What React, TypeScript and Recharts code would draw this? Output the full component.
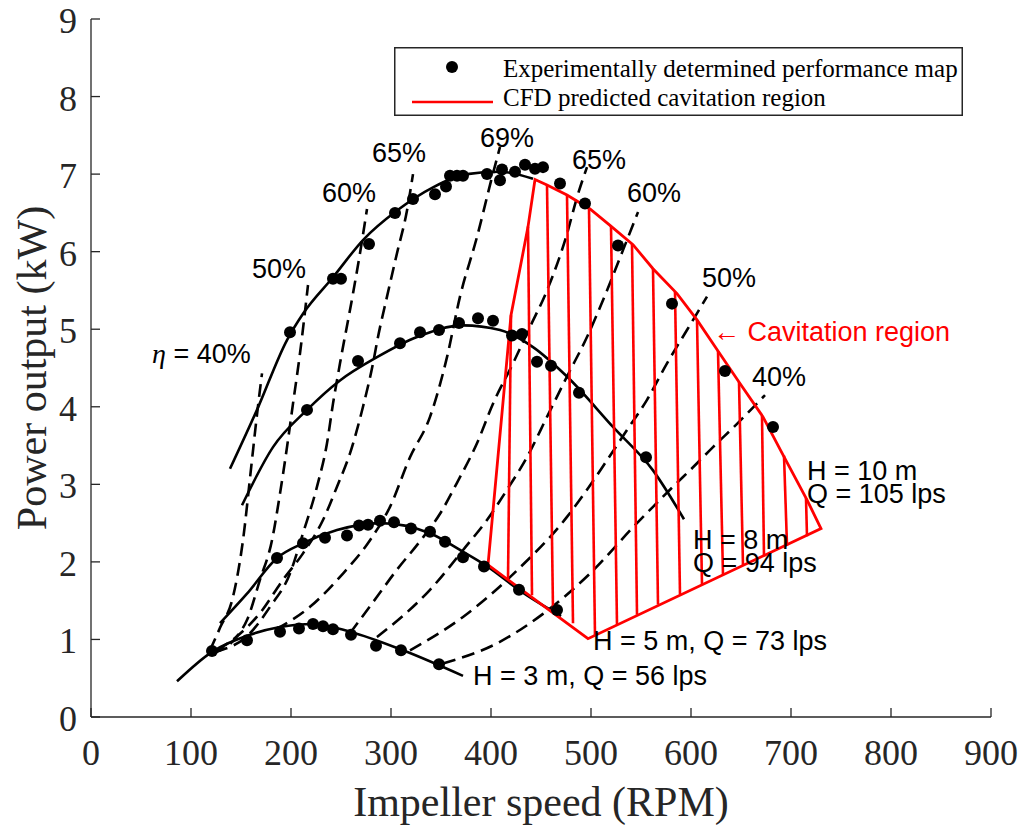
import React from 'react';
import { ComposedChart, Line, Scatter, XAxis, YAxis, ReferenceDot, Legend } from 'recharts';

type Pt = [number, number];

const rpmTicks = [0, 100, 200, 300, 400, 500, 600, 700, 800, 900];
const kwTicks = [0, 1, 2, 3, 4, 5, 6, 7, 8, 9];

// experimental points (rpm, kW), one list per head
const measured3m: Pt[] = [
  [121, 0.85], [156, 0.99], [189, 1.1], [208, 1.14], [222, 1.2], [232, 1.17], [242, 1.13],
  [260, 1.06], [285, 0.92], [310, 0.86], [348, 0.68],
];
const measured5m: Pt[] = [
  [186, 2.05], [212, 2.24], [234, 2.31], [256, 2.34], [268, 2.47], [277, 2.48], [289, 2.53],
  [303, 2.51], [320, 2.43], [339, 2.39], [354, 2.26], [372, 2.06], [393, 1.94], [428, 1.64], [466, 1.38],
];
const measured8m: Pt[] = [
  [216, 3.96], [267, 4.59], [309, 4.82], [329, 4.96], [348, 4.99], [368, 5.08], [387, 5.14],
  [402, 5.11], [421, 4.92], [431, 4.94], [446, 4.58], [460, 4.53], [488, 4.18], [555, 3.35],
];
const measured10m: Pt[] = [
  [199, 4.96], [242, 5.65], [250, 5.65], [278, 6.1], [304, 6.5], [322, 6.68], [344, 6.74],
  [355, 6.84], [359, 6.98], [366, 6.98], [372, 6.98], [396, 7.0], [409, 6.92], [411, 7.06],
  [424, 7.03], [434, 7.12], [444, 7.07], [452, 7.09], [469, 6.88], [494, 6.62], [527, 6.08],
  [581, 5.33], [634, 4.46], [682, 3.74],
];

// fitted head curves
const fit3m: Pt[] = [[86, 0.46], [121, 0.84], [159, 1.06], [189, 1.16], [222, 1.2], [259, 1.1], [312, 0.86], [372, 0.53]];
const fit5m: Pt[] = [
  [129, 1.21], [156, 1.59], [186, 2.05], [212, 2.24], [246, 2.41], [289, 2.5], [339, 2.37],
  [372, 2.13], [394, 1.96], [430, 1.62], [470, 1.3],
];
const fit8m: Pt[] = [
  [151, 2.73], [182, 3.48], [216, 3.96], [249, 4.34], [286, 4.64], [326, 4.9], [372, 5.05],
  [409, 4.99], [442, 4.77], [476, 4.39], [522, 3.74], [562, 3.18], [593, 2.55],
];
const fit10m: Pt[] = [
  [139, 3.2], [166, 3.96], [196, 4.86], [212, 5.2], [242, 5.67], [272, 6.15], [306, 6.53],
  [342, 6.83], [376, 7.0], [409, 7.03], [442, 6.94],
];

// iso-efficiency lines
const eta40a: Pt[] = [[119, 0.86], [129, 1.15], [142, 1.55], [152, 2.28], [160, 3.2], [166, 3.9], [171, 4.43]];
const eta50a: Pt[] = [[122, 0.82], [146, 1.04], [156, 1.25], [169, 1.77], [181, 2.28], [189, 2.88], [196, 3.48], [202, 4.04], [209, 4.69], [217, 5.57]];
const eta60a: Pt[] = [[124, 0.84], [159, 1.08], [179, 1.42], [199, 1.85], [212, 2.37], [226, 2.97], [236, 3.53], [242, 4.04], [249, 4.56], [262, 5.46], [269, 5.98], [276, 6.55]];
const eta65a: Pt[] = [[126, 0.86], [146, 1.04], [169, 1.34], [192, 1.77], [212, 2.11], [232, 2.54], [246, 2.97], [259, 3.4], [272, 4.0], [282, 4.56], [287, 4.9], [296, 5.42], [306, 5.98], [316, 6.53], [322, 7.0]];
const eta69: Pt[] = [[185, 1.13], [219, 1.42], [252, 1.85], [279, 2.28], [299, 2.71], [319, 3.35], [339, 3.87], [356, 4.64], [369, 5.42], [386, 6.19], [401, 6.96], [409, 7.35]];
const eta65b: Pt[] = [[259, 1.08], [286, 1.55], [306, 1.9], [328, 2.25], [349, 2.62], [366, 3.02], [386, 3.53], [402, 4.04], [422, 4.56], [439, 5.03], [456, 5.5], [476, 6.23], [486, 6.7], [496, 7.09]];
const eta60b: Pt[] = [[286, 1.03], [339, 1.64], [375, 2.2], [396, 2.54], [416, 2.93], [436, 3.35], [456, 3.87], [476, 4.39], [496, 4.9], [516, 5.5], [532, 6.02], [547, 6.51]];
const eta50b: Pt[] = [[319, 0.86], [372, 1.29], [426, 1.89], [476, 2.58], [496, 2.93], [516, 3.31], [536, 3.7], [556, 4.09], [576, 4.56], [596, 4.99], [616, 5.42]];
const eta40b: Pt[] = [[352, 0.69], [406, 0.95], [452, 1.33], [499, 1.85], [546, 2.5], [562, 2.71], [582, 2.97], [602, 3.22], [622, 3.48], [646, 3.78], [674, 4.15]];

// CFD cavitation region outline (closed) and hatch lines
const cavBoundary: Pt[] = [
  [397, 1.96], [420, 5.18], [437, 6.32], [444, 6.93], [456, 6.86], [476, 6.73], [499, 6.55],
  [519, 6.34], [542, 6.09], [562, 5.78], [586, 5.46], [606, 5.12], [628, 4.7], [649, 4.3],
  [672, 3.87], [692, 3.38], [716, 2.8], [730, 2.43], [497, 1.01], [397, 1.96],
];
const hatchTop: Pt[] = [
  [420, 5.18], [437, 6.32], [456, 6.86], [476, 6.73], [498, 6.56], [520, 6.33], [541, 6.1],
  [562, 5.78], [584, 5.48], [606, 5.12], [627, 4.72], [648, 4.32], [671, 3.88], [693, 3.37], [715, 2.82],
];
const hatchBottom: Pt[] = [
  [417, 1.77], [441, 1.57], [462, 1.38], [482, 1.21], [504, 1.05], [526, 1.19], [546, 1.32],
  [567, 1.45], [589, 1.58], [611, 1.71], [632, 1.83], [652, 1.95], [673, 2.07], [696, 2.21], [716, 2.33],
];

// annotation anchors (rpm, kW at the first text baseline)
const notes = [
  { x: 61, y: 4.56, lines: [' = 40%'], eta: true },
  { x: 161, y: 5.66, lines: ['50%'] },
  { x: 231, y: 6.64, lines: ['60%'] },
  { x: 281, y: 7.15, lines: ['65%'] },
  { x: 389, y: 7.35, lines: ['69%'] },
  { x: 481, y: 7.07, lines: ['65%'] },
  { x: 536, y: 6.64, lines: ['60%'] },
  { x: 611, y: 5.55, lines: ['50%'] },
  { x: 661, y: 4.27, lines: ['40%'] },
  { x: 622, y: 4.85, lines: ['\u2190 Cavitation region'], color: '#ff0000' },
  { x: 716, y: 3.05, lines: ['H = 10 m', 'Q = 105 lps'] },
  { x: 602, y: 2.16, lines: ['H = 8 m', 'Q = 94 lps'] },
  { x: 502, y: 0.86, lines: ['H = 5 m, Q = 73 lps'] },
  { x: 382, y: 0.41, lines: ['H = 3 m, Q = 56 lps'] },
];

const xy = (pts: Pt[]) => pts.map(([x, y]) => ({ x, y }));

const allMeasured = xy([...measured3m, ...measured5m, ...measured8m, ...measured10m]);
const fitCurves = [fit3m, fit5m, fit8m, fit10m];
const etaLines = [eta40a, eta50a, eta60a, eta65a, eta69, eta65b, eta60b, eta50b, eta40b];

const SERIF = '"Liberation Serif", "Times New Roman", serif';
const SANS = '"Liberation Sans", Arial, sans-serif';
const AXIS = '#262626';
const RED = '#ff0000';
const axisStyle = { stroke: AXIS, strokeWidth: 1.3 };

const XTick = ({ x, y, payload }: any) => (
  <text x={x} y={y} textAnchor="middle" fontFamily={SERIF} fontSize={36} fill={AXIS}>
    {payload.value}
  </text>
);

const YTick = ({ x, y, payload }: any) => (
  <text x={x} y={y + 14} textAnchor="end" fontFamily={SERIF} fontSize={36} fill={AXIS}>
    {payload.value}
  </text>
);

const XTitle = ({ viewBox }: any) => (
  <text x={viewBox.x + viewBox.width / 2} y={viewBox.y + 99} textAnchor="middle" fontFamily={SERIF} fontSize={42} fill={AXIS}>
    Impeller speed (RPM)
  </text>
);

const YTitle = ({ viewBox }: any) => {
  const cx = viewBox.x + 15;
  const cy = viewBox.y + viewBox.height / 2;
  return (
    <text x={cx} y={cy} transform={`rotate(-90, ${cx}, ${cy})`} textAnchor="middle" fontFamily={SERIF} fontSize={42} fill={AXIS}>
      Power output (kW)
    </text>
  );
};

const NoteText = ({ viewBox, lines, color, eta }: any) => (
  <text x={viewBox.x} y={viewBox.y} fontFamily={SANS} fontSize={27} fill={color || '#000'}>
    {eta && (
      <tspan fontFamily={SERIF} fontStyle="italic" fontSize={28}>
        {'\u03b7'}
      </tspan>
    )}
    {lines.map((s: string, i: number) => (
      <tspan key={i} x={i > 0 ? viewBox.x : undefined} dy={i > 0 ? 22.5 : undefined}>
        {s}
      </tspan>
    ))}
  </text>
);

const DotShape = ({ cx, cy }: any) => <circle cx={cx} cy={cy} r={6} fill="#000" />;

const LegendBox = () => (
  <svg width={569} height={69} style={{ display: 'block' }}>
    <rect x={0.75} y={0.75} width={567.5} height={67.5} fill="#fff" stroke={AXIS} strokeWidth={1.5} />
    <circle cx={58} cy={20} r={6} fill="#000" />
    <text x={109} y={30} fontFamily={SERIF} fontSize={25} fill="#000">
      Experimentally determined performance map
    </text>
    <line x1={18} x2={99} y1={55} y2={55} stroke={RED} strokeWidth={2.5} />
    <text x={109} y={59} fontFamily={SERIF} fontSize={25} fill="#000">
      CFD predicted cavitation region
    </text>
  </svg>
);

export default function App() {
  return (
    <div style={{ position: 'absolute', left: 0, top: 0, width: 1024, height: 834, background: '#fff' }}>
      <ComposedChart width={1024} height={834} margin={{ top: 19, right: 33, bottom: 57, left: 31 }}>
        <XAxis
          type="number"
          dataKey="x"
          domain={[0, 900]}
          ticks={rpmTicks}
          interval={0}
          allowDataOverflow
          height={60}
          tickSize={-9}
          tickMargin={57}
          tick={<XTick />}
          axisLine={axisStyle}
          tickLine={axisStyle}
          label={<XTitle />}
        />
        <XAxis
          xAxisId="top"
          orientation="top"
          type="number"
          dataKey="x"
          domain={[0, 900]}
          ticks={rpmTicks}
          interval={0}
          allowDataOverflow
          height={0}
          tickSize={-9}
          tick={false}
          axisLine={axisStyle}
          tickLine={axisStyle}
        />
        <YAxis
          type="number"
          dataKey="y"
          domain={[0, 9]}
          ticks={kwTicks}
          interval={0}
          allowDataOverflow
          width={60}
          tickSize={-9}
          tickMargin={23}
          tick={<YTick />}
          axisLine={axisStyle}
          tickLine={axisStyle}
          label={<YTitle />}
        />
        <YAxis
          yAxisId="right"
          orientation="right"
          type="number"
          dataKey="y"
          domain={[0, 9]}
          ticks={kwTicks}
          interval={0}
          allowDataOverflow
          width={0}
          tickSize={-9}
          tick={false}
          axisLine={axisStyle}
          tickLine={axisStyle}
        />

        {etaLines.map((pts, i) => (
          <Line
            key={`eta-${i}`}
            data={xy(pts)}
            dataKey="y"
            type="monotone"
            stroke="#000"
            strokeWidth={2.6}
            strokeDasharray="13 7"
            dot={false}
            activeDot={false}
            isAnimationActive={false}
          />
        ))}
        {fitCurves.map((pts, i) => (
          <Line
            key={`fit-${i}`}
            data={xy(pts)}
            dataKey="y"
            type="monotone"
            stroke="#000"
            strokeWidth={2.6}
            dot={false}
            activeDot={false}
            isAnimationActive={false}
          />
        ))}
        {hatchTop.map((top, i) => (
          <Line
            key={`hatch-${i}`}
            data={xy([top, hatchBottom[i]])}
            dataKey="y"
            type="linear"
            stroke={RED}
            strokeWidth={2.6}
            dot={false}
            activeDot={false}
            isAnimationActive={false}
          />
        ))}
        <Line
          data={xy(cavBoundary)}
          dataKey="y"
          type="linear"
          stroke={RED}
          strokeWidth={2.8}
          dot={false}
          activeDot={false}
          isAnimationActive={false}
        />
        <Scatter data={allMeasured} shape={<DotShape />} isAnimationActive={false} />

        {notes.map((n, i) => (
          <ReferenceDot
            key={`note-${i}`}
            x={n.x}
            y={n.y}
            r={0}
            fill="none"
            stroke="none"
            ifOverflow="visible"
            label={<NoteText lines={n.lines} color={n.color} eta={n.eta} />}
          />
        ))}

        <Legend
          layout="horizontal"
          verticalAlign="middle"
          align="center"
          content={<LegendBox />}
          wrapperStyle={{ left: 394, top: 47, width: 569, height: 69 }}
        />
      </ComposedChart>
    </div>
  );
}
